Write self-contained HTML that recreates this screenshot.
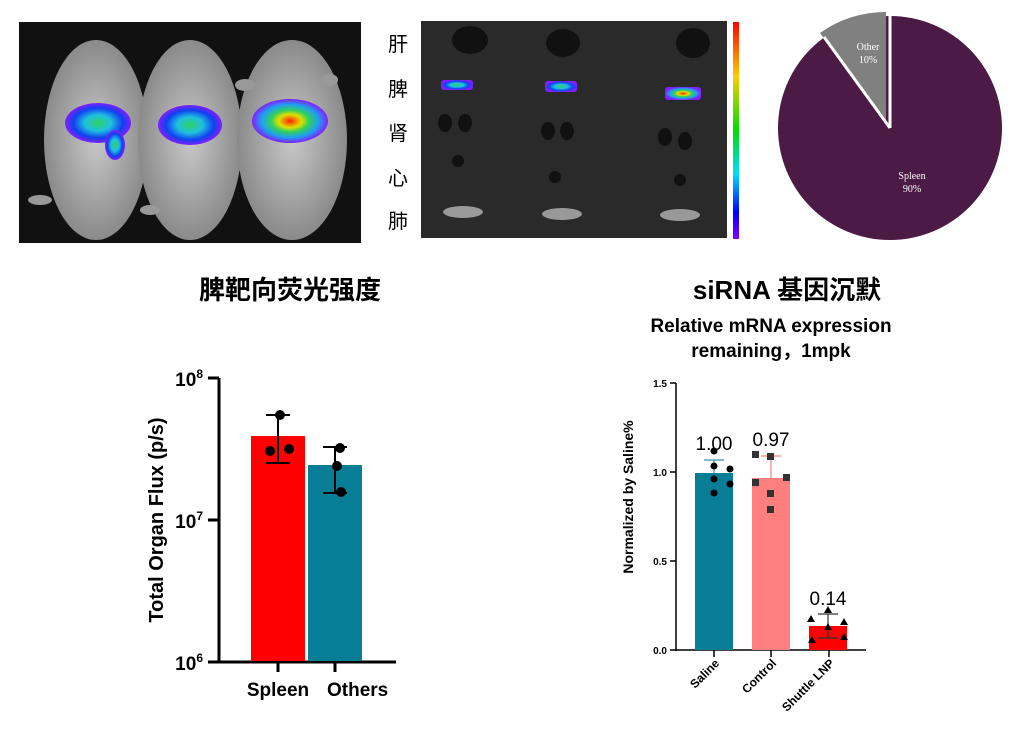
<!DOCTYPE html>
<html><head><meta charset="utf-8"><style>
body{margin:0;background:#fff;width:1012px;height:745px;overflow:hidden}
text{font-family:"Liberation Sans","Noto Sans CJK SC",sans-serif}
text.serif{font-family:"Liberation Serif",serif}
</style></head><body>
<svg width="1012" height="745" viewBox="0 0 1012 745" xmlns="http://www.w3.org/2000/svg">
<defs>
<radialGradient id="hm" cx="50%" cy="50%" r="50%">
<stop offset="0" stop-color="#2fd060"/><stop offset="0.4" stop-color="#20c0e0"/><stop offset="0.75" stop-color="#1040f0"/><stop offset="1" stop-color="#8020ff"/></radialGradient>
<radialGradient id="hm2" cx="50%" cy="50%" r="50%">
<stop offset="0" stop-color="#ff2000"/><stop offset="0.3" stop-color="#e0e000"/><stop offset="0.5" stop-color="#30d060"/><stop offset="0.75" stop-color="#20a0f0"/><stop offset="1" stop-color="#8020ff"/></radialGradient>
<linearGradient id="cb" x1="0" y1="0" x2="0" y2="1">
<stop offset="0" stop-color="#ff0000"/><stop offset="0.25" stop-color="#ffcc00"/><stop offset="0.5" stop-color="#00dd00"/><stop offset="0.7" stop-color="#00ddff"/><stop offset="0.88" stop-color="#0000ff"/><stop offset="1" stop-color="#8000ff"/></linearGradient>
<radialGradient id="mouse" cx="50%" cy="50%" r="50%"><stop offset="0" stop-color="#c8c8c8"/><stop offset="1" stop-color="#8a8a8a"/></radialGradient>
</defs>
<!-- mice photo -->
<rect x="19" y="22" width="342" height="221" fill="#111"/>
<g fill="url(#mouse)">
<ellipse cx="96" cy="140" rx="52" ry="100"/>
<ellipse cx="190" cy="140" rx="52" ry="100"/>
<ellipse cx="292" cy="140" rx="55" ry="100"/>
</g>
<g fill="#999"><ellipse cx="40" cy="200" rx="12" ry="5"/><ellipse cx="150" cy="210" rx="10" ry="5"/><ellipse cx="245" cy="85" rx="10" ry="6"/><ellipse cx="330" cy="80" rx="8" ry="6"/></g>
<ellipse cx="98" cy="123" rx="33" ry="20" fill="url(#hm)"/>
<ellipse cx="115" cy="145" rx="10" ry="15" fill="url(#hm)"/>
<ellipse cx="190" cy="125" rx="32" ry="20" fill="url(#hm)"/>
<ellipse cx="290" cy="121" rx="38" ry="22" fill="url(#hm2)"/>
<!-- organ photo -->
<text x="398" y="51" font-size="20" text-anchor="middle">肝</text>
<text x="398" y="96" font-size="20" text-anchor="middle">脾</text>
<text x="398" y="140" font-size="20" text-anchor="middle">肾</text>
<text x="398" y="185" font-size="20" text-anchor="middle">心</text>
<text x="398" y="228" font-size="20" text-anchor="middle">肺</text>
<rect x="421" y="21" width="306" height="217" fill="#2a2a2a"/>
<g fill="#111"><ellipse cx="470" cy="40" rx="18" ry="14"/><ellipse cx="563" cy="43" rx="17" ry="14"/><ellipse cx="693" cy="43" rx="17" ry="15"/>
<ellipse cx="445" cy="123" rx="7" ry="9"/><ellipse cx="465" cy="123" rx="7" ry="9"/><ellipse cx="548" cy="131" rx="7" ry="9"/><ellipse cx="567" cy="131" rx="7" ry="9"/><ellipse cx="665" cy="137" rx="7" ry="9"/><ellipse cx="685" cy="141" rx="7" ry="9"/>
<ellipse cx="458" cy="161" rx="6" ry="6"/><ellipse cx="555" cy="177" rx="6" ry="6"/><ellipse cx="680" cy="180" rx="6" ry="6"/></g>
<g fill="#999"><ellipse cx="463" cy="212" rx="20" ry="6"/><ellipse cx="562" cy="214" rx="20" ry="6"/><ellipse cx="680" cy="215" rx="20" ry="6"/></g>
<rect x="441" y="80" width="32" height="10" rx="3" fill="url(#hm)"/>
<rect x="545" y="81" width="32" height="11" rx="3" fill="url(#hm)"/>
<rect x="665" y="87" width="36" height="13" rx="3" fill="url(#hm2)"/>
<rect x="733" y="22" width="6" height="217" fill="url(#cb)"/>
<!-- pie -->
<circle cx="890" cy="128" r="112" fill="#4b1a45"/>
<path d="M886,124 L886,12 A112,112 0 0,0 820,33 Z" fill="#808080"/>
<path d="M890,128 L890,16" stroke="#fff" stroke-width="3"/>
<path d="M890,128 L824,37" stroke="#fff" stroke-width="3"/>
<text class="serif" x="868" y="50" font-size="10" fill="#fff" text-anchor="middle">Other</text>
<text class="serif" x="868" y="63" font-size="10" fill="#fff" text-anchor="middle">10%</text>
<text class="serif" x="912" y="179" font-size="10" fill="#fff" text-anchor="middle">Spleen</text>
<text class="serif" x="912" y="192" font-size="10" fill="#fff" text-anchor="middle">90%</text>
<!-- titles -->
<text x="290" y="299" font-size="26" font-weight="bold" text-anchor="middle">脾靶向荧光强度</text>
<text x="787" y="299" font-size="26" font-weight="bold" text-anchor="middle">siRNA 基因沉默</text>
<text x="771" y="332" font-size="19" font-weight="bold" text-anchor="middle">Relative mRNA expression</text>
<text x="771" y="357" font-size="19" font-weight="bold" text-anchor="middle">remaining，1mpk</text>
<!-- left chart -->
<g stroke="#000" stroke-width="3">
<line x1="219" y1="378" x2="219" y2="663"/><line x1="218" y1="662" x2="396" y2="662"/>
<line x1="208" y1="378" x2="219" y2="378"/><line x1="208" y1="520" x2="219" y2="520"/><line x1="208" y1="662" x2="219" y2="662"/>
<line x1="278" y1="662" x2="278" y2="672"/><line x1="335" y1="662" x2="335" y2="672"/>
</g>
<rect x="251" y="436" width="54" height="225" fill="#ff0000"/>
<rect x="308" y="465" width="54" height="196" fill="#087d96"/>
<g stroke="#000" stroke-width="2" fill="none">
<path d="M278,415 V463 M266,415 H290 M266,463 H290"/>
<path d="M335,447 V493 M323,447 H347 M323,493 H347"/>
</g>
<g fill="#000"><circle cx="280" cy="415" r="5"/><circle cx="270" cy="451" r="5"/><circle cx="289" cy="449" r="5"/>
<circle cx="340" cy="448" r="5"/><circle cx="337" cy="466" r="5"/><circle cx="341" cy="492" r="5"/></g>
<g font-weight="bold" font-size="19" text-anchor="end">
<text x="203" y="386">10<tspan font-size="12" dy="-8">8</tspan></text>
<text x="203" y="528">10<tspan font-size="12" dy="-8">7</tspan></text>
<text x="203" y="670">10<tspan font-size="12" dy="-8">6</tspan></text>
</g>
<text x="278" y="696" font-size="19" font-weight="bold" text-anchor="middle">Spleen</text>
<text x="327" y="696" font-size="19" font-weight="bold">Others</text>
<text transform="translate(163,520) rotate(-90)" font-size="20" font-weight="bold" text-anchor="middle">Total Organ Flux (p/s)</text>
<!-- right chart -->
<g stroke="#000" stroke-width="1.5">
<line x1="676" y1="383" x2="676" y2="651"/><line x1="676" y1="650" x2="866" y2="650"/>
<line x1="670" y1="383" x2="676" y2="383"/><line x1="670" y1="472" x2="676" y2="472"/><line x1="670" y1="561" x2="676" y2="561"/><line x1="670" y1="650" x2="676" y2="650"/>
<line x1="714" y1="650" x2="714" y2="657"/><line x1="771" y1="650" x2="771" y2="657"/><line x1="829" y1="650" x2="829" y2="657"/>
</g>
<g font-size="10" font-weight="bold" text-anchor="end">
<text x="667" y="387">1.5</text><text x="667" y="476">1.0</text><text x="667" y="565">0.5</text><text x="667" y="654">0.0</text></g>
<rect x="695" y="473" width="38" height="177" fill="#087d96"/>
<rect x="752" y="478" width="38" height="172" fill="#ff7f7f"/>
<rect x="809" y="626" width="38" height="24" fill="#ff0000"/>
<g stroke="#555" stroke-width="1.2" fill="none">
<path d="M714,473 V460 M704,460 H724" stroke="#3a8fa5"/>
<path d="M771,478 V456 M761,456 H781" stroke="#ff7f7f"/>
<path d="M828,638 V614 V638 M818,614 H838 M818,638 H838" stroke="#333"/>
</g>
<g fill="#000"><circle cx="714" cy="451" r="3.5"/><circle cx="714" cy="466" r="3.5"/><circle cx="730" cy="469" r="3.5"/><circle cx="714" cy="479" r="3.5"/><circle cx="730" cy="484" r="3.5"/><circle cx="714" cy="493" r="3.5"/></g>
<g fill="#333"><rect x="752" y="451" width="7" height="7"/><rect x="767" y="453" width="7" height="7"/><rect x="752" y="479" width="7" height="7"/><rect x="783" y="474" width="7" height="7"/><rect x="767" y="490" width="7" height="7"/><rect x="767" y="506" width="7" height="7"/></g>
<g fill="#000"><path d="M828,606 l4,7 h-8z"/><path d="M811,615 l4,7 h-8z"/><path d="M844,618 l4,7 h-8z"/><path d="M828,623 l4,7 h-8z"/><path d="M844,633 l4,7 h-8z"/><path d="M812,636 l4,7 h-8z"/></g>
<g font-size="19" text-anchor="middle"><text x="714" y="450">1.00</text><text x="771" y="446">0.97</text><text x="828" y="605">0.14</text></g>
<text transform="translate(633,497) rotate(-90)" font-size="14" font-weight="bold" text-anchor="middle">Normalized by Saline%</text>
<g font-size="12" font-weight="bold" text-anchor="end">
<text transform="translate(720,664) rotate(-45)">Saline</text>
<text transform="translate(777,664) rotate(-45)">Control</text>
<text transform="translate(835,664) rotate(-45)">Shuttle LNP</text></g>
</svg>
</body></html>
